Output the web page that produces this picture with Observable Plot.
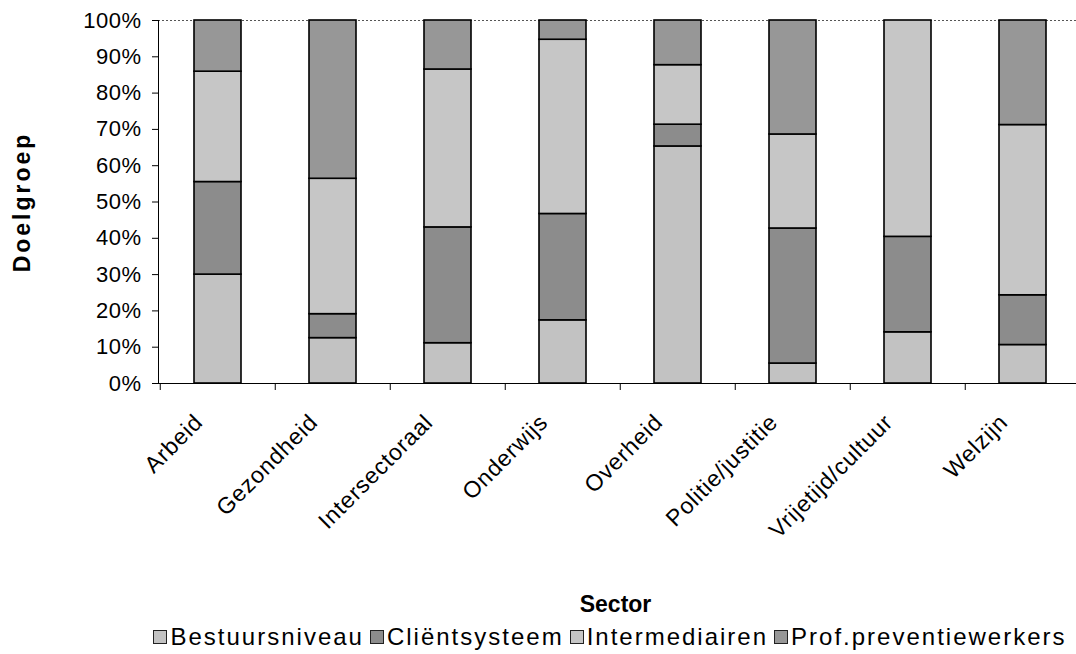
<!DOCTYPE html>
<html><head><meta charset="utf-8">
<script src="https://cdn.jsdelivr.net/npm/d3@7"></script>
<script src="https://cdn.jsdelivr.net/npm/@observablehq/plot@0.6"></script>
<style>
body{margin:0;background:#fff;font-family:"Liberation Sans",Arial,sans-serif;overflow:hidden;}
#legend{display:flex;justify-content:center;align-items:center;height:34px;font-size:24px;letter-spacing:2px;color:#000;margin-left:150px;width:920px;white-space:nowrap;}
#legend .item{display:flex;align-items:center;margin:0 3px;}
#legend .sw{display:inline-block;width:12px;height:12px;border:1px solid #222;margin-right:3px;}
</style></head><body><div id="chart"></div><div id="legend"></div><script>
const sectors = ["Arbeid","Gezondheid","Intersectoraal","Onderwijs","Overheid","Politie/justitie","Vrijetijd/cultuur","Welzijn"];
const groups = ["Bestuursniveau","Cliëntsysteem","Intermediairen","Prof.preventiewerkers"];
const bestuursniveau = [30.0, 12.5, 11.1, 17.4, 65.3, 5.5, 14.1, 10.6];
const clientsysteem  = [25.5, 6.6, 31.9, 29.3, 6.0, 37.2, 26.3, 13.7];
const intermediairen = [30.4, 37.3, 43.5, 48.0, 16.4, 25.9, 59.6, 46.9];
const profPreventie  = [14.1, 43.6, 13.5, 5.3, 12.3, 31.4, 0, 28.8];
const yTicks = [0,0.1,0.2,0.3,0.4,0.5,0.6,0.7,0.8,0.9,1];
const colors = ["#c2c2c2","#8c8c8c","#c6c6c6","#979797"];

const series = [bestuursniveau, clientsysteem, intermediairen, profPreventie];
const data = sectors.flatMap((s,i)=>groups.map((g,j)=>({sector:s, group:g, value:series[j][i]})));

const W=1076, H=620, mL=158, mR=-6, mT=20, mB=237;
const step = (W-mL-mR)/sectors.length;

const plot = Plot.plot({
  width:W, height:H, marginLeft:mL, marginRight:mR, marginTop:mT, marginBottom:mB,
  style:{fontFamily:"'Liberation Sans', Arial, sans-serif", fontSize:"22px", color:"#000", background:"#fff", overflow:"visible"},
  x:{domain:sectors, paddingInner:0.593, paddingOuter:0.2965, label:null},
  y:{domain:[0,1], label:null},
  color:{domain:groups, range:colors},
  marks:[
    Plot.ruleY([1], {stroke:"#555", strokeDasharray:"2,2"}),
    Plot.barY(data, Plot.stackY({offset:"normalize", order:null}, {x:"sector", y:"value", fill:"group", stroke:"#000", strokeWidth:1.6})),
    Plot.frame({anchor:"left", stroke:"#000"}),
    Plot.ruleY([0], {stroke:"#000"}),
    Plot.axisY({ticks:yTicks, tickFormat:d3.format(".0%"), tickSize:6, tickPadding:11, label:null, fontSize:22}),
    Plot.axisX({tickSize:0, tickRotate:-45, tickPadding:35, dx:-19, label:null, fontSize:23}),
    Plot.axisX({tickSize:7, tickFormat:()=>"", dx:-step/2, label:null}),
    Plot.text(["Sector"], {frameAnchor:"bottom", dx:-5, dy:228, fontWeight:"bold", fontSize:23, textAnchor:"middle"}),
    Plot.text(["Doelgroep"], {frameAnchor:"left", dx:-136, rotate:-90, textAnchor:"middle", fontWeight:"bold", fontSize:23})
  ]
});
document.getElementById("chart").appendChild(plot);

// letter spacing tweaks to match the wider original typeface
d3.select(plot).selectAll("text").each(function(){
  const t = this.textContent;
  if (t === "Doelgroep") this.style.letterSpacing = "3px";
  else if (sectors.includes(t)) this.style.letterSpacing = "0.8px";
  else if (/%$/.test(t)) this.style.letterSpacing = "0.5px";
});

const lg = document.getElementById("legend");
groups.forEach((g,i)=>{
  const it = document.createElement("span"); it.className="item";
  const sw = document.createElement("span"); sw.className="sw"; sw.style.background=colors[i];
  it.appendChild(sw); it.appendChild(document.createTextNode(g)); lg.appendChild(it);
});
</script></body></html>
